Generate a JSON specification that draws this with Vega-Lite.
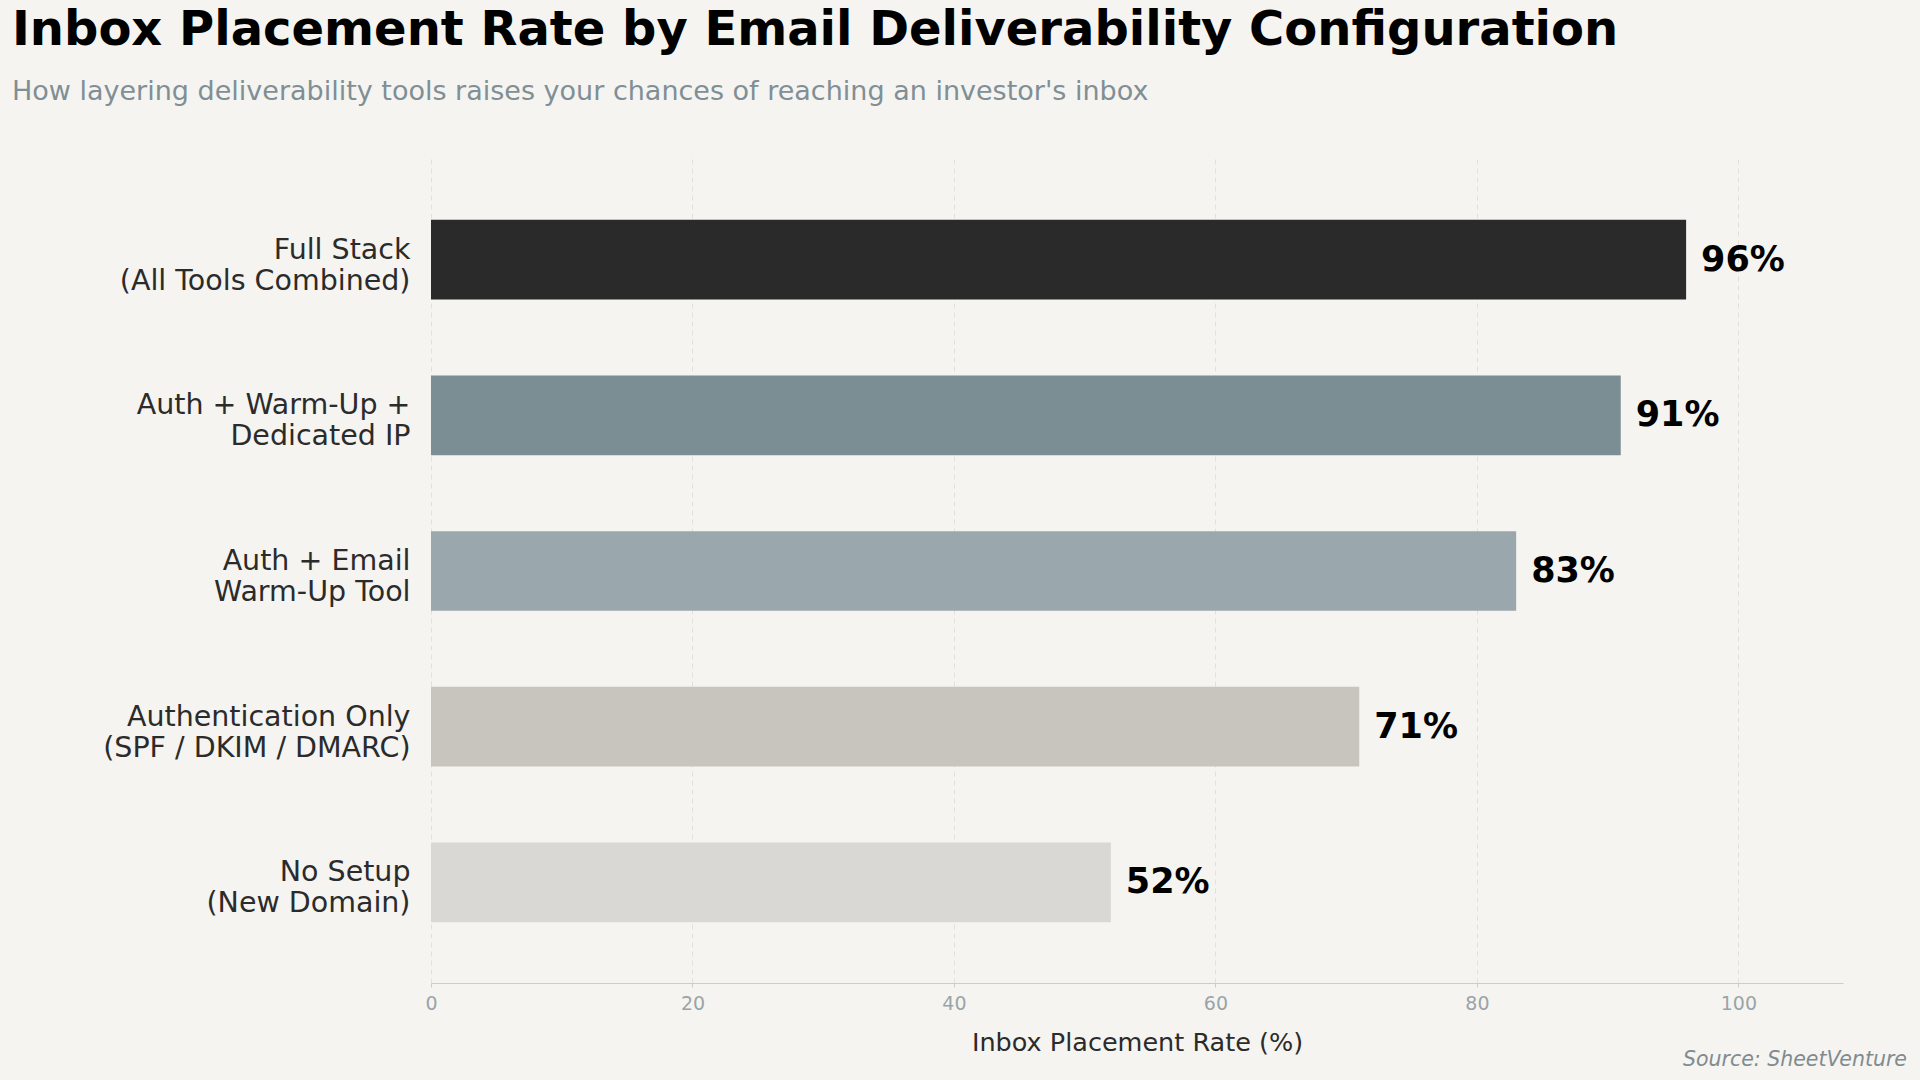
{
  "$schema": "https://vega.github.io/schema/vega-lite/v6.json",
  "width": 1412,
  "height": 824,
  "autosize": {"type": "none"},
  "padding": {"left": 431, "top": 159, "right": 77, "bottom": 97},
  "background": "#f5f4f0",
  "title": {
    "text": "Inbox Placement Rate by Email Deliverability Configuration",
    "subtitle": "How layering deliverability tools raises your chances of reaching an investor's inbox",
    "anchor": "start",
    "frame": "group",
    "dx": -419,
    "offset": 54,
    "font": "DejaVu Sans",
    "fontSize": 48,
    "fontWeight": "bold",
    "color": "#000000",
    "subtitleFont": "DejaVu Sans",
    "subtitleFontSize": 27,
    "subtitleColor": "#7f8f95",
    "subtitlePadding": 24
  },
  "config": {
    "view": {"stroke": null},
    "font": "DejaVu Sans"
  },
  "datasets": {
    "bars": [
      {"config": "Full Stack\n(All Tools Combined)", "rate": 96, "label": "96%", "color": "#2a2a2a"},
      {"config": "Auth + Warm-Up +\nDedicated IP", "rate": 91, "label": "91%", "color": "#7a8e94"},
      {"config": "Auth + Email\nWarm-Up Tool", "rate": 83, "label": "83%", "color": "#9aa7ac"},
      {"config": "Authentication Only\n(SPF / DKIM / DMARC)", "rate": 71, "label": "71%", "color": "#c8c5bf"},
      {"config": "No Setup\n(New Domain)", "rate": 52, "label": "52%", "color": "#d9d8d4"}
    ],
    "source": [{"text": "Source: SheetVenture"}]
  },
  "layer": [
    {
      "data": {"name": "bars"},
      "mark": {"type": "bar"},
      "encoding": {
        "y": {
          "field": "config",
          "type": "nominal",
          "sort": null,
          "scale": {"paddingInner": 0.488, "paddingOuter": 0.39},
          "axis": {
            "title": null,
            "domain": false,
            "ticks": false,
            "labelFontSize": 28.5,
            "labelColor": "#2b2b2b",
            "labelPadding": 21,
            "labelLineHeight": 31,
            "labelOffset": -10,
            "labelExpr": "split(datum.value, '\\n')",
            "labelLimit": 600
          }
        },
        "x": {
          "field": "rate",
          "type": "quantitative",
          "scale": {"domain": [0, 108], "nice": false},
          "axis": {
            "title": "Inbox Placement Rate (%)",
            "titleFontSize": 25.5,
            "titleFontWeight": "normal",
            "titleColor": "#2b2b2b",
            "titlePadding": 17,
            "values": [0, 20, 40, 60, 80, 100],
            "labelFontSize": 19,
            "labelColor": "#9aa4a8",
            "labelPadding": 7,
            "labelFlush": false,
            "ticks": true,
            "tickSize": 4,
            "tickColor": "#cccccc",
            "domainColor": "#cccccc",
            "domainWidth": 1.2,
            "grid": true,
            "gridColor": "#e2e0db",
            "gridDash": [5, 4],
            "gridWidth": 1
          }
        },
        "color": {"field": "color", "type": "nominal", "scale": null, "legend": null}
      }
    },
    {
      "data": {"name": "bars"},
      "mark": {"type": "text", "align": "left", "baseline": "middle", "dx": 15, "fontSize": 35, "fontWeight": "bold", "color": "#000000"},
      "encoding": {
        "y": {"field": "config", "type": "nominal", "sort": null},
        "x": {"field": "rate", "type": "quantitative"},
        "text": {"field": "label"}
      }
    },
    {
      "data": {"name": "source"},
      "mark": {"type": "text", "align": "right", "baseline": "alphabetic", "dx": 64, "dy": 83, "fontSize": 20.5, "fontStyle": "italic", "color": "#808b90"},
      "encoding": {
        "x": {"value": "width"},
        "y": {"value": "height"},
        "text": {"field": "text"}
      }
    }
  ]
}
